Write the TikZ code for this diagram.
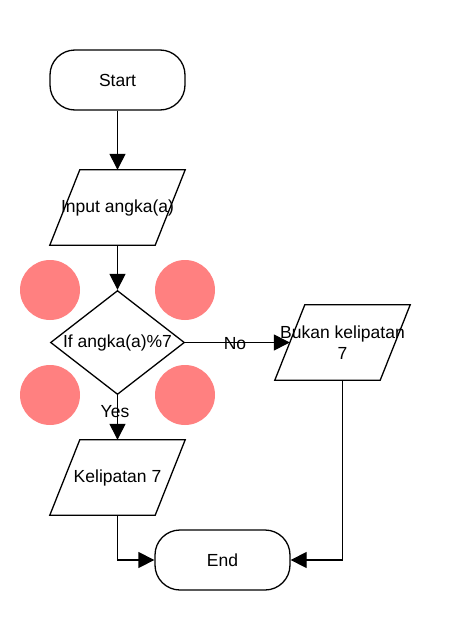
\documentclass[tikz,border=0pt]{standalone}
\usepackage{fontspec}
\setmainfont{Liberation Sans}
\usetikzlibrary{shapes.geometric,arrows.meta}
\definecolor{dot}{RGB}{255,128,128}
\begin{document}
\begin{tikzpicture}[x=1pt,y=-1pt,
  every node/.style={font=\fontsize{17.5}{21}\selectfont},
  term/.style={draw,line width=1.3pt,rounded corners=25pt,minimum width=135pt,minimum height=60pt,inner sep=0pt},
  parabox/.style={minimum width=105pt,minimum height=75pt,inner sep=0pt},
  ptext/.style={label={[align=center,inner sep=0pt]center:#1}},
  decision/.style={draw,line width=1.3pt,diamond,minimum width=134pt,minimum height=104pt,inner sep=0pt},
  conn/.style={line width=1.3pt,-{Triangle[length=16pt,width=16pt]}},
  lbl/.style={inner sep=0pt},
  blob/.style={fill=dot,draw=none}]
\useasboundingbox (0,0) rectangle (460,640);
\fill[white] (0,0) rectangle (460,640);
\fill[blob] (50,290) circle (30);
\fill[blob] (185,290) circle (30);
\fill[blob] (50,395) circle (30);
\fill[blob] (185,395) circle (30);
\node[term] (start) at (117.5,80) {Start};
\node[parabox,ptext={Input angka(a)}] (input) at (117.5,207.5) {};
\node[decision,ptext={If angka(a)\%7}] (dec) at (117.5,342.5) {};
\node[parabox,ptext={Bukan kelipatan\\7}] (bukan) at (342.5,342.5) {};
\node[parabox,ptext={Kelipatan 7}] (kel) at (117.5,477.5) {};
\node[term] (end) at (222.5,560) {End};
\foreach \n in {input,bukan,kel}{
  \draw[line width=1.3pt] ([xshift=15pt]\n.north west) -- ([xshift=15pt]\n.north east)
    -- ([xshift=-15pt]\n.south east) -- ([xshift=-15pt]\n.south west) -- cycle;
}
\draw[conn] (start) -- (input);
\draw[conn] (input) -- (dec);
\draw[conn] (dec.east) -- (bukan.west);
\draw[conn] (dec.south) -- (kel.north);
\draw[conn] (kel.south) |- (end.west);
\draw[conn] (bukan.south) |- (end.east);
\node[lbl] (no) at (235,344) {No};
\node[lbl] (yes) at (115,412) {Yes};
\end{tikzpicture}
\end{document}
